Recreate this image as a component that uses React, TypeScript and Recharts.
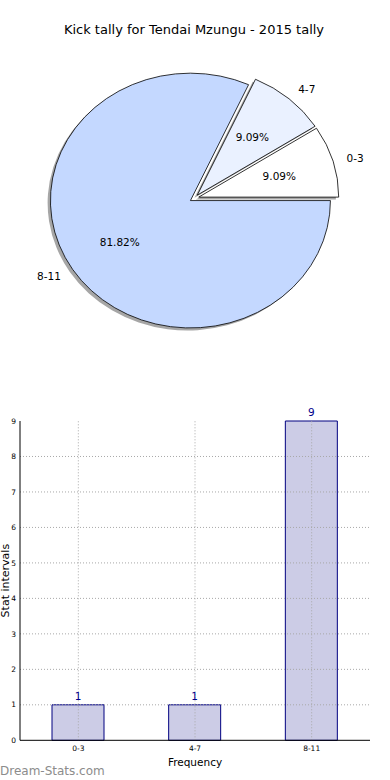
import React from 'react';
import { PieChart, Pie, Cell, BarChart, Bar, XAxis, YAxis, ReferenceLine, LabelList, Label } from 'recharts';

const ranges = ['0-3', '4-7', '8-11'];
const kicks = [1, 1, 9];
const sliceColors = ['#ffffff', '#eaf1ff', '#c4d8ff'];
const yTicks = [0, 1, 2, 3, 4, 5, 6, 7, 8, 9];

const pieData = ranges.map((name, i) => ({ name, value: kicks[i] }));
const barData = ranges.map((range, i) => ({ range, kicks: kicks[i] }));

const FONT = '"DejaVu Sans", sans-serif';
const SQUASH = 0.91; // the original pie is an ellipse, not a circle
const EXPLODE = 4.6;
const RAD = Math.PI / 180;
const GRID = '#a8a8a8';

const slicePath = (cx: number, cy: number, rx: number, ry: number, a0: number, a1: number) => {
  const x1 = cx + rx * Math.cos(a0 * RAD);
  const y1 = cy - ry * Math.sin(a0 * RAD);
  const x2 = cx + rx * Math.cos(a1 * RAD);
  const y2 = cy - ry * Math.sin(a1 * RAD);
  const large = Math.abs(a1 - a0) > 180 ? 1 : 0;
  return `M${cx},${cy} L${x1},${y1} A${rx},${ry} 0 ${large} 0 ${x2},${y2} Z`;
};

const explodedCenter = (cx: number, cy: number, midAngle: number) => ({
  x: cx + EXPLODE * Math.cos(midAngle * RAD),
  y: cy - EXPLODE * SQUASH * Math.sin(midAngle * RAD),
});

const PieSlice = (props: any) => {
  const { cx, cy, outerRadius, startAngle, endAngle, fill } = props;
  const mid = (startAngle + endAngle) / 2;
  const c = explodedCenter(cx, cy, mid);
  const d = slicePath(c.x, c.y, outerRadius, outerRadius * SQUASH, startAngle, endAngle);
  return (
    <g>
      <path d={d} transform="translate(-2.8, 2.5)" fill="#4d4d4d" fillOpacity={0.5} stroke="none" />
      <path d={d} fill={fill} stroke="#000" strokeWidth={0.8} />
    </g>
  );
};

const PieLabel = (props: any) => {
  const { cx, cy, midAngle, outerRadius, percent, name, payload } = props;
  const cos = Math.cos(midAngle * RAD);
  const sin = Math.sin(midAngle * RAD);
  const c = explodedCenter(cx, cy, midAngle);
  const rx = outerRadius;
  const ry = outerRadius * SQUASH;
  return (
    <g fontFamily={FONT} fontSize={10.5} fill="#000">
      <text x={c.x + 1.1 * rx * cos} y={c.y - 1.1 * ry * sin} textAnchor={cos > 0 ? 'start' : 'end'} dominantBaseline="central">
        {name ?? payload?.name}
      </text>
      <text x={c.x + 0.6 * rx * cos} y={c.y - 0.6 * ry * sin} textAnchor="middle" dominantBaseline="central">
        {(percent * 100).toFixed(2)}%
      </text>
    </g>
  );
};

const YTitle = ({ viewBox }: any) => {
  const x = viewBox.x + 9;
  const y = viewBox.y + viewBox.height / 2;
  return (
    <text x={x} y={y} transform={`rotate(-90 ${x} ${y})`} textAnchor="middle" fontFamily={FONT} fontSize={11} fill="#000">
      Stat intervals
    </text>
  );
};

export default function App() {
  return (
    <div style={{ position: 'absolute', left: 0, top: 0, width: 390, height: 780, background: '#fff', fontFamily: FONT }}>
      <svg width={390} height={50} style={{ position: 'absolute', left: 0, top: 0 }}>
        <text x={194} y={34} textAnchor="middle" fontFamily={FONT} fontSize={13} fill="#000">
          Kick tally for Tendai Mzungu - 2015 tally
        </text>
      </svg>

      <div style={{ position: 'absolute', left: 0, top: 0 }}>
        <PieChart width={390} height={380} margin={{ top: 0, right: 0, bottom: 0, left: 0 }}>
          <Pie
            data={pieData}
            dataKey="value"
            nameKey="name"
            cx={194.3}
            cy={198.3}
            outerRadius={140}
            startAngle={0}
            endAngle={360}
            shape={PieSlice}
            activeShape={PieSlice}
            inactiveShape={PieSlice}
            label={PieLabel}
            labelLine={false}
            isAnimationActive={false}
          >
            {pieData.map((d, i) => (
              <Cell key={d.name} fill={sliceColors[i]} />
            ))}
          </Pie>
        </PieChart>
      </div>

      <div style={{ position: 'absolute', left: 0, top: 400 }}>
        <BarChart width={390} height={380} data={barData} margin={{ top: 21, right: 20, left: 0, bottom: 0 }}>
          <XAxis
            dataKey="range"
            height={39.7}
            interval={0}
            tickSize={0}
            tickMargin={5}
            axisLine={{ stroke: '#000' }}
            tick={{ fontSize: 7.5, fill: '#000', fontFamily: FONT }}
          >
            <Label value="Frequency" position="insideBottom" offset={14} fontSize={10.5} fill="#000" fontFamily={FONT} />
          </XAxis>
          <XAxis xAxisId="top" orientation="top" dataKey="range" height={0} tick={false} tickLine={false} axisLine={{ stroke: '#000' }} />
          <YAxis
            width={20}
            domain={[0, 9]}
            ticks={yTicks}
            interval={0}
            tickSize={0}
            tickMargin={4}
            axisLine={{ stroke: '#000' }}
            tick={{ fontSize: 7.5, fill: '#000', fontFamily: FONT }}
          >
            <Label content={YTitle} />
          </YAxis>
          <YAxis yAxisId="right" orientation="right" width={0} domain={[0, 9]} tick={false} tickLine={false} axisLine={{ stroke: '#000' }} />
          <Bar dataKey="kicks" fill="#cccce6" stroke="#000080" strokeWidth={1} barSize={52} isAnimationActive={false}>
            <LabelList dataKey="kicks" position="top" offset={5} fill="#00008b" fontSize={10.5} fontFamily={FONT} />
          </Bar>
          {/* dotted grid drawn on top of the bars, like the original */}
          {yTicks.slice(1, -1).map((t) => (
            <ReferenceLine key={`y${t}`} y={t} stroke={GRID} strokeDasharray="1 2" />
          ))}
          {ranges.map((r) => (
            <ReferenceLine key={`x${r}`} x={r} stroke={GRID} strokeDasharray="1 2" />
          ))}
        </BarChart>
      </div>

      <svg width={200} height={20} style={{ position: 'absolute', left: 0, top: 760 }}>
        <text x={0} y={14.5} fontFamily={FONT} fontSize={12} fill="#8c8c8c">
          Dream-Stats.com
        </text>
      </svg>
    </div>
  );
}
